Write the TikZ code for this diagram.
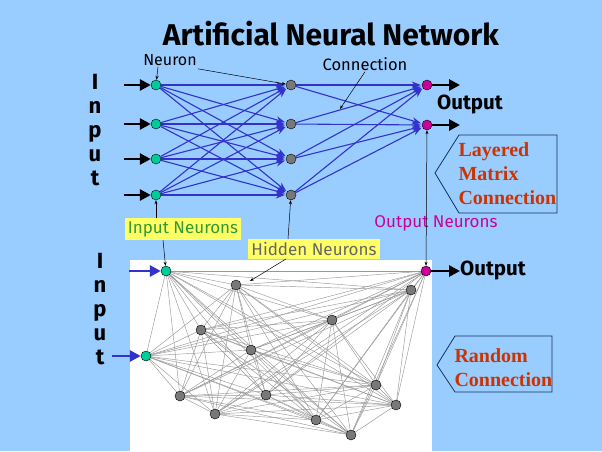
\documentclass[tikz,border=0pt]{standalone}
\usepackage{fontspec}
\setmainfont{Fira Sans}
\newfontfamily\serifb{Liberation Serif}
\usetikzlibrary{arrows.meta}
\definecolor{bgblue}{RGB}{153,204,255}
\definecolor{teal}{RGB}{0,204,153}
\definecolor{grayn}{RGB}{120,120,120}
\definecolor{magn}{RGB}{204,0,153}
\definecolor{cblue}{RGB}{51,51,204}
\definecolor{brownred}{RGB}{204,51,0}
\definecolor{ylw}{RGB}{255,255,102}
\definecolor{gtext}{RGB}{51,153,51}
\definecolor{htext}{RGB}{102,102,102}
\definecolor{navy}{RGB}{20,50,90}
\pgfdeclarelayer{back}
\pgfdeclarelayer{lines}
\pgfsetlayers{back,lines,main}
\begin{document}
\begin{tikzpicture}[x=1pt,y=-1pt,
  neu/.style={circle,draw=black,line width=0.4pt,minimum size=10pt,inner sep=0pt},
  inN/.style={neu,fill=teal},
  hidN/.style={neu,fill=grayn},
  outN/.style={neu,fill=magn},
  conn/.style={draw=cblue,line width=1.1pt,-{Stealth[length=9pt,width=7pt]},shorten >=1pt},
  bigarrow/.style={draw=black,line width=2.8pt,-{Triangle[length=11pt,width=11pt]}},
  bluearrow/.style={draw=cblue,line width=2.8pt,-{Triangle[length=11pt,width=11pt]}},
  lblarrow/.style={draw=black,line width=0.5pt,-{Stealth[length=4pt,width=3pt]}},
  rnd/.style={draw=black!40,line width=0.45pt},
  ylwbox/.style={fill=ylw,inner sep=3pt,font=\fontsize{17}{19}\selectfont},
  vertword/.style={font=\fontsize{22}{24}\selectfont\bfseries,align=center},
  redtext/.style={text=brownred,font=\serifb\fontsize{20}{24}\selectfont\bfseries,align=left,anchor=west},
  pent/.style={draw=navy,line width=0.8pt}
]
\useasboundingbox (0,0) rectangle (602,451);
\begin{pgfonlayer}{back}
\fill[bgblue] (0,0) rectangle (602,451);
\fill[white] (130,260) rectangle (432,451);
\end{pgfonlayer}

% Title
\node[inner sep=1pt] (title) at (331,34) {\fontsize{30}{32}\selectfont\bfseries Artificial Neural Network};

% Top network
\node[inN] (i1) at (156,85) {};
\node[inN] (i2) at (156,124) {};
\node[inN] (i3) at (156,159) {};
\node[inN] (i4) at (156,195) {};
\node[hidN] (h1) at (291,85) {};
\node[hidN] (h2) at (291,124) {};
\node[hidN] (h3) at (291,159) {};
\node[hidN] (h4) at (291,195) {};
\node[outN] (o1) at (427,85) {};
\node[outN] (o2) at (427,125) {};

\begin{pgfonlayer}{lines}
\foreach \a in {1,...,4}{\foreach \b in {1,...,4}{\draw[conn] (i\a) -- (h\b);}}
\foreach \a in {1,...,4}{\foreach \b in {1,2}{\draw[conn] (h\a) -- (o\b);}}
\end{pgfonlayer}

% input arrows top
\foreach \k/\y in {1/85,2/124,3/159,4/195}{
  \coordinate (ia\k) at (124,\y);
  \draw[bigarrow] (ia\k) -- (i\k);
}
\coordinate (oa1) at (460,85);
\coordinate (oa2) at (460,125);
\draw[bigarrow] (o1) -- (oa1);
\draw[bigarrow] (o2) -- (oa2);

\node[vertword] (inword1) at (95,130) {I\\n\\p\\u\\t};
\node (outword1) at (470,104) {\fontsize{20.5}{22}\selectfont\bfseries Output};

% labels top
\node[inner sep=1pt] (neuronlbl) at (170,60) {\fontsize{16}{18}\selectfont Neuron};
\draw[lblarrow] ([xshift=-12pt]neuronlbl.south) -- (i1);
\draw[lblarrow] ([yshift=-2pt]neuronlbl.south east) -- (h1);
\node[inner sep=1pt] (connlbl) at (365,64) {\fontsize{16.5}{18}\selectfont Connection};
\coordinate (connpt) at (340,109);
\draw[lblarrow] (connlbl.south) -- (connpt);

% Layered matrix box
\draw[pent] (459,135) -- (557,135) -- (557,213) -- (459,213) -- (435,173) -- cycle;
\node[redtext] (lmc) at (455,174) {Layered\\Matrix\\Connection};

% Random box
\draw[pent] (455,336) -- (552,336) -- (552,392) -- (455,392) -- (437,365) -- cycle;
\node[redtext] (rc) at (451,368) {Random\\Connection};

% Lower network
\node[inN] (l1) at (166,271) {};
\node[inN] (l2) at (146,356) {};
\node[outN] (l3) at (426,271) {};
\node[hidN] (l4) at (236,285) {};
\node[hidN] (l5) at (411,290) {};
\node[hidN] (l6) at (332,320) {};
\node[hidN] (l7) at (201,330) {};
\node[hidN] (l8) at (251,350) {};
\node[hidN] (l9) at (376,385) {};
\node[hidN] (l10) at (180,396) {};
\node[hidN] (l11) at (266,395) {};
\node[hidN] (l12) at (396,405) {};
\node[hidN] (l13) at (215,414) {};
\node[hidN] (l14) at (316,420) {};
\node[hidN] (l15) at (351,435) {};
\begin{pgfonlayer}{lines}
\foreach \i in {1,...,14}{
  \pgfmathtruncatemacro\s{\i+1}
  \foreach \j in {\s,...,15}{\draw[rnd] (l\i.center) -- (l\j.center);}
}
\end{pgfonlayer}

\coordinate (la1) at (129,271);
\coordinate (la2) at (112,356);
\draw[bluearrow] (la1) -- (l1);
\draw[bluearrow] (la2) -- (l2);
\coordinate (loa) at (460,271);
\draw[bigarrow] (l3) -- (loa);
\node (outword2) at (493,270) {\fontsize{20.5}{22}\selectfont\bfseries Output};
\node[vertword] (inword2) at (100,309) {I\\n\\p\\u\\t};

% yellow labels
\node[ylwbox,text=gtext] (inlbl) at (183,229) {Input Neurons};
\node[ylwbox,text=htext] (hidlbl) at (314,249) {Hidden Neurons};
\node[text=magn,font=\fontsize{17}{19}\selectfont] (outlbl) at (436,223) {Output Neurons};
\draw[lblarrow] (inlbl.north -| i4) -- (i4);
\draw[lblarrow] ([xshift=-20pt]inlbl.south) -- (l1);
\draw[lblarrow] ([xshift=-26pt]hidlbl.north) -- (h4);
\coordinate (hidpt) at (250,281);
\draw[lblarrow] ([xshift=-28pt]hidlbl.south) -- (hidpt);
\draw[lblarrow,{Stealth[length=4pt,width=3pt]}-{Stealth[length=4pt,width=3pt]}] (o2) -- (l3);
\end{tikzpicture}
\end{document}
